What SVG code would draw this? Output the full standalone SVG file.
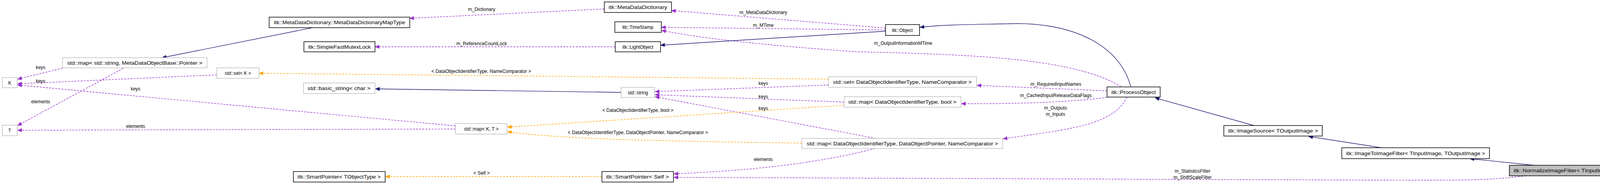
<svg xmlns="http://www.w3.org/2000/svg" width="4256" height="472" viewBox="0 0 4256 472">
<style>
text{font-family:"Liberation Sans",Arial,sans-serif;font-size:12px;fill:#000}
.n text{text-anchor:middle}
.d{fill:#fff;stroke:#000;stroke-width:1.5}
.g{fill:#fff;stroke:#bfbfbf;stroke-width:1.5}
.h{fill:#bfbfbf;stroke:#000;stroke-width:1.5}
.e path{fill:none;stroke-width:1.4}
.p{stroke:#9a32cd;stroke-dasharray:5,3;marker-end:url(#mp)}
.o{stroke:#ffa500;stroke-dasharray:5,3;marker-end:url(#mo)}
.b{stroke:#191970;marker-end:url(#mb)}
.l{text-anchor:middle}
</style>
<defs>
<marker id="mp" markerWidth="12" markerHeight="10" refX="11" refY="5" orient="auto" markerUnits="userSpaceOnUse"><path d="M0,0L12,5L0,10z" fill="#9a32cd"/></marker>
<marker id="mo" markerWidth="12" markerHeight="10" refX="11" refY="5" orient="auto" markerUnits="userSpaceOnUse"><path d="M0,0L12,5L0,10z" fill="#ffa500"/></marker>
<marker id="mb" markerWidth="12" markerHeight="10" refX="11" refY="5" orient="auto" markerUnits="userSpaceOnUse"><path d="M0,0L12,5L0,10z" fill="#191970"/></marker>
</defs>
<rect width="4256" height="472" fill="#fff"/>
<g class="e" id="edges">
<path class="b" d="M800,71L415,148"/>
<path class="p" d="M160,175L45,203"/>
<path class="p" d="M316,175L45,322"/>
<path class="p" d="M555,192L45,215"/>
<path class="p" d="M1166,323L45,218"/>
<path class="p" d="M1166,331L45,334"/>
<path class="o" d="M2121,203L663,188"/>
<path class="p" d="M1547,23L1049,47"/>
<path class="p" d="M2267,72L1719,27"/>
<path class="p" d="M2267,77L1693,70"/>
<path class="p" d="M2870,222C2750,150 2500,140 2200,133C2000,120 1800,100 1694,78"/>
<path class="b" d="M2267,80L1691,116"/>
<path class="p" d="M1575,120L960,120"/>
<path class="b" d="M2895,222C2860,100 2720,55 2580,61C2480,63 2420,63 2355,70"/>
<path class="b" d="M1590,237L961,228"/>
<path class="p" d="M2121,218L1677,235"/>
<path class="p" d="M2161,262L1677,243"/>
<path class="p" d="M2242,355L1677,248"/>
<path class="o" d="M2161,270L1299,326"/>
<path class="o" d="M2053,367C1700,362 1450,358 1299,338"/>
<path class="p" d="M2240,381C2050,430 1850,440 1725,446"/>
<path class="o" d="M1541,453L987,453"/>
<path class="p" d="M3906,451C3800,465 3700,462 3500,462L1725,455"/>
<path class="p" d="M2834,233L2501,219"/>
<path class="p" d="M2834,250C2700,266 2560,266 2461,266"/>
<path class="p" d="M2885,249C2850,320 2750,330 2568,356"/>
<path class="b" d="M3210,322L2957,251"/>
<path class="b" d="M3537,379L3350,350"/>
<path class="b" d="M3927,424L3763,407"/>
<text class="l" x="104" y="177">keys</text>
<text class="l" x="104" y="265">elements</text>
<text class="l" x="104" y="212">keys</text>
<text class="l" x="347" y="232">keys</text>
<text class="l" x="347" y="328">elements</text>
<text class="l" x="1232" y="187">&lt; DataObjectIdentifierType, NameComparator &gt;</text>
<text class="l" x="1233" y="28">m_Dictionary</text>
<text class="l" x="1954" y="36">m_MetaDataDictionary</text>
<text class="l" x="1954" y="69">m_MTime</text>
<text class="l" x="2312" y="115">m_OutputInformationMTime</text>
<text class="l" x="1233" y="116">m_ReferenceCountLock</text>
<text class="l" x="1954" y="218">keys</text>
<text class="l" x="1954" y="252">keys</text>
<text class="l" x="1954" y="282">keys</text>
<text class="l" x="1633" y="287">&lt; DataObjectIdentifierType, bool &gt;</text>
<text class="l" x="1633" y="344">&lt; DataObjectIdentifierType, DataObjectPointer, NameComparator &gt;</text>
<text class="l" x="1954" y="413">elements</text>
<text class="l" x="1233" y="448">&lt; Self &gt;</text>
<text class="l" x="3053" y="443">m_StatisticsFilter</text>
<text class="l" x="3053" y="459">m_ShiftScaleFilter</text>
<text class="l" x="2703" y="220">m_RequiredInputNames</text>
<text class="l" x="2703" y="249">m_CachedInputReleaseDataFlags</text>
<text class="l" x="2702" y="281">m_Outputs</text>
<text class="l" x="2702" y="297">m_Inputs</text>
</g>
<g class="n" id="n_mapType"><rect class="d" x="689" y="44" width="360" height="27"/><text x="869" y="62" textLength="336" lengthAdjust="spacingAndGlyphs">itk::MetaDataDictionary::MetaDataDictionaryMapType</text></g>
<g class="n" id="n_mutex"><rect class="d" x="778" y="107" width="182" height="26"/><text x="869" y="124.5" textLength="160" lengthAdjust="spacingAndGlyphs">itk::SimpleFastMutexLock</text></g>
<g class="n" id="n_mapStr"><rect class="g" x="160" y="148" width="370" height="26"/><text x="345" y="165.5" textLength="346" lengthAdjust="spacingAndGlyphs">std::map&lt; std::string, MetaDataObjectBase::Pointer &gt;</text></g>
<g class="n" id="n_setK"><rect class="g" x="555" y="174" width="108" height="27"/><text x="609" y="192">std::set&lt; K &gt;</text></g>
<g class="n" id="n_K"><rect class="g" x="6" y="199" width="38" height="26"/><text x="25" y="216.5">K</text></g>
<g class="n" id="n_T"><rect class="g" x="6" y="321" width="38" height="27"/><text x="25" y="339">T</text></g>
<g class="n" id="n_bstr"><rect class="g" x="777" y="213" width="183" height="27"/><text x="868" y="231" textLength="161" lengthAdjust="spacingAndGlyphs">std::basic_string&lt; char &gt;</text></g>
<g class="n" id="n_spT"><rect class="d" x="751" y="440" width="235" height="27"/><text x="868" y="458" textLength="213" lengthAdjust="spacingAndGlyphs">itk::SmartPointer&lt; TObjectType &gt;</text></g>
<g class="n" id="n_mdd"><rect class="d" x="1547" y="5" width="172" height="27"/><text x="1633" y="23" textLength="150" lengthAdjust="spacingAndGlyphs">itk::MetaDataDictionary</text></g>
<g class="n" id="n_ts"><rect class="d" x="1574" y="56" width="119" height="27"/><text x="1633" y="74">itk::TimeStamp</text></g>
<g class="n" id="n_lo"><rect class="d" x="1575" y="107" width="116" height="26"/><text x="1633" y="124.5">itk::LightObject</text></g>
<g class="n" id="n_str"><rect class="g" x="1590" y="224" width="86" height="26"/><text x="1633" y="241.5">std::string</text></g>
<g class="n" id="n_mapKT"><rect class="g" x="1166" y="317" width="132" height="27"/><text x="1232" y="335">std::map&lt; K, T &gt;</text></g>
<g class="n" id="n_spS"><rect class="d" x="1541" y="440" width="183" height="27"/><text x="1632" y="458" textLength="161" lengthAdjust="spacingAndGlyphs">itk::SmartPointer&lt; Self &gt;</text></g>
<g class="n" id="n_setD"><rect class="g" x="2121" y="197" width="379" height="27"/><text x="2310" y="215" textLength="355" lengthAdjust="spacingAndGlyphs">std::set&lt; DataObjectIdentifierType, NameComparator &gt;</text></g>
<g class="n" id="n_mapB"><rect class="g" x="2161" y="248" width="299" height="27"/><text x="2310" y="266" textLength="277" lengthAdjust="spacingAndGlyphs">std::map&lt; DataObjectIdentifierType, bool &gt;</text></g>
<g class="n" id="n_mapP"><rect class="g" x="2053" y="355" width="514" height="26"/><text x="2310" y="372.5" textLength="490" lengthAdjust="spacingAndGlyphs">std::map&lt; DataObjectIdentifierType, DataObjectPointer, NameComparator &gt;</text></g>
<g class="n" id="n_obj"><rect class="d" x="2267" y="63" width="87" height="28"/><text x="2310" y="81.5">itk::Object</text></g>
<g class="n" id="n_po"><rect class="d" x="2834" y="223" width="136" height="26"/><text x="2902" y="240.5" textLength="114" lengthAdjust="spacingAndGlyphs">itk::ProcessObject</text></g>
<g class="n" id="n_is"><rect class="d" x="3133" y="322" width="252" height="27"/><text x="3259" y="340" textLength="230" lengthAdjust="spacingAndGlyphs">itk::ImageSource&lt; TOutputImage &gt;</text></g>
<g class="n" id="n_iif"><rect class="d" x="3435" y="379" width="378" height="28"/><text x="3624" y="397.5" textLength="356" lengthAdjust="spacingAndGlyphs">itk::ImageToImageFilter&lt; TInputImage, TOutputImage &gt;</text></g>
<g class="n" id="n_nif"><rect class="h" x="3864" y="424" width="390" height="27"/><text x="4059" y="442" textLength="368" lengthAdjust="spacingAndGlyphs">itk::NormalizeImageFilter&lt; TInputImage, TOutputImage &gt;</text></g>
</svg>
